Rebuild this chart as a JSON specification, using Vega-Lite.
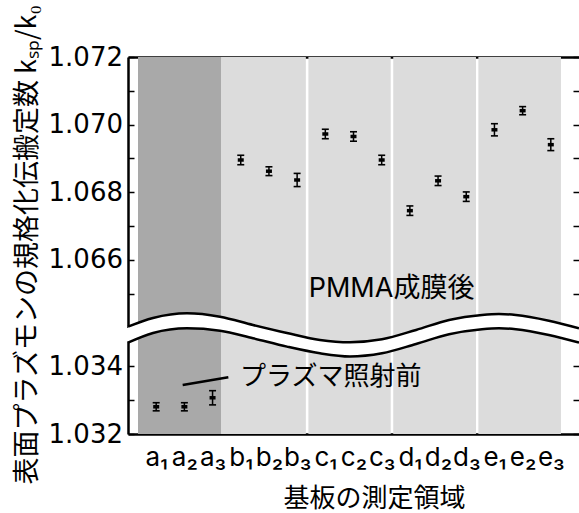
{
  "$schema": "https://vega.github.io/schema/vega-lite/v6.json",
  "width": 451,
  "height": 377,
  "autosize": {"type": "none"},
  "padding": {"left": 128, "top": 57, "right": 0, "bottom": 79},
  "background": "white",
  "config": {
    "view": {"stroke": null},
    "axis": {
      "grid": false,
      "domainColor": "black",
      "domainWidth": 2.5,
      "tickColor": "black",
      "tickWidth": 1.5,
      "labelColor": "black",
      "labelFont": "DejaVu Sans",
      "labelFontSize": 26,
      "titleColor": "black",
      "titleFont": "Noto Sans CJK JP",
      "titleFontSize": 27,
      "titleFontWeight": "normal",
      "labelOverlap": false,
      "labelFlush": false,
      "labelBound": false
    }
  },
  "datasets": {
    "upper": [
      {"id": "b1", "x": 4, "k": 1.068955, "lo": 1.068815, "hi": 1.069095},
      {"id": "b2", "x": 5, "k": 1.068624, "lo": 1.068494, "hi": 1.068754},
      {"id": "b3", "x": 6, "k": 1.068364, "lo": 1.068169, "hi": 1.068559},
      {"id": "c1", "x": 7, "k": 1.069724, "lo": 1.069584, "hi": 1.069864},
      {"id": "c2", "x": 8, "k": 1.06965, "lo": 1.06951, "hi": 1.06979},
      {"id": "c3", "x": 9, "k": 1.068955, "lo": 1.068815, "hi": 1.069095},
      {"id": "d1", "x": 10, "k": 1.067457, "lo": 1.067317, "hi": 1.067597},
      {"id": "d2", "x": 11, "k": 1.06834, "lo": 1.0682, "hi": 1.06848},
      {"id": "d3", "x": 12, "k": 1.067871, "lo": 1.067731, "hi": 1.068011},
      {"id": "e1", "x": 13, "k": 1.069848, "lo": 1.069668, "hi": 1.070028},
      {"id": "e2", "x": 14, "k": 1.070413, "lo": 1.070293, "hi": 1.070533},
      {"id": "e3", "x": 15, "k": 1.069408, "lo": 1.069233, "hi": 1.069583}
    ],
    "lower": [
      {"id": "a1", "x": 1, "k": 1.032805, "lo": 1.032685, "hi": 1.032925},
      {"id": "a2", "x": 2, "k": 1.032805, "lo": 1.032685, "hi": 1.032925},
      {"id": "a3", "x": 3, "k": 1.033071, "lo": 1.032861, "hi": 1.033281}
    ],
    "bands": [
      {"x": 0.355, "x2": 3.3, "kind": "before"},
      {"x": 3.3, "x2": 6.31, "kind": "after"},
      {"x": 6.4, "x2": 9.32, "kind": "after"},
      {"x": 9.41, "x2": 12.345, "kind": "after"},
      {"x": 12.43, "x2": 15.36, "kind": "after"}
    ],
    "wave": [
      {"x": 0, "top": 1.064028, "bot": 1.063555},
      {"x": 0.887, "top": 1.064285, "bot": 1.063841},
      {"x": 2.093, "top": 1.064424, "bot": 1.06398},
      {"x": 3.264, "top": 1.064323, "bot": 1.06391},
      {"x": 4.434, "top": 1.064078, "bot": 1.063685},
      {"x": 5.64, "top": 1.063841, "bot": 1.063437},
      {"x": 6.81, "top": 1.063635, "bot": 1.063241},
      {"x": 7.875, "top": 1.063567, "bot": 1.063147},
      {"x": 9.01, "top": 1.063655, "bot": 1.063241},
      {"x": 10.22, "top": 1.06393, "bot": 1.063516},
      {"x": 11.39, "top": 1.064226, "bot": 1.063803},
      {"x": 12.56, "top": 1.064374, "bot": 1.063951},
      {"x": 13.16, "top": 1.064403, "bot": 1.06398},
      {"x": 13.76, "top": 1.064374, "bot": 1.063951},
      {"x": 14.93, "top": 1.064205, "bot": 1.063782},
      {"x": 16.0, "top": 1.06398, "bot": 1.063555}
    ],
    "upperNote": [{"x": 9.35, "y": 1.065142, "text": "PMMA成膜後"}],
    "lowerNote": [{"x": 7.19, "y": 1.033686, "text": "プラズマ照射前"}],
    "pointer": [{"x": 1.94, "y": 1.03345, "x2": 3.56, "y2": 1.033677}]
  },
  "layer": [
    {
      "encoding": {
        "x": {
          "field": "x",
          "type": "quantitative",
          "scale": {"domain": [0, 16], "nice": false, "zero": false},
          "axis": {
            "orient": "bottom",
            "values": [1, 2, 3, 4, 5, 6, 7, 8, 9, 10, 11, 12, 13, 14, 15],
            "labelExpr": "['a₁','a₂','a₃','b₁','b₂','b₃','c₁','c₂','c₃','d₁','d₂','d₃','e₁','e₂','e₃'][datum.value-1]",
            "labelFont": "Inter",
            "labelFontSize": 26,
            "tickSize": -6,
            "labelPadding": 16,
            "title": "基板の測定領域",
            "titleFontSize": 26,
            "titleX": 246,
            "titleY": 72,
            "titleAlign": "center",
            "titleBaseline": "alphabetic"
          }
        }
      },
      "layer": [
        {
          "data": {"name": "bands"},
          "mark": {"type": "rect"},
          "encoding": {
            "x2": {"field": "x2"},
            "color": {
              "field": "kind",
              "type": "nominal",
              "scale": {"domain": ["before", "after"], "range": ["#a9a9a9", "#dcdcdc"]},
              "legend": null
            }
          }
        },
        {
          "data": {"name": "wave"},
          "mark": {"type": "area", "orient": "vertical", "interpolate": "monotone", "fill": "white", "clip": false},
          "encoding": {
            "y": {
              "field": "top",
              "type": "quantitative",
              "scale": {"domain": [1.064, 1.072], "range": [270.6, 0], "nice": false, "zero": false},
              "axis": null
            },
            "y2": {"field": "bot"}
          }
        },
        {
          "data": {"name": "wave"},
          "mark": {"type": "line", "interpolate": "monotone", "color": "black", "strokeWidth": 2.5, "clip": false},
          "encoding": {"y": {"field": "top", "type": "quantitative", "axis": null}}
        },
        {
          "data": {"name": "wave"},
          "mark": {"type": "line", "interpolate": "monotone", "color": "black", "strokeWidth": 2.5, "clip": false},
          "encoding": {"y": {"field": "bot", "type": "quantitative", "axis": null}}
        },
        {
          "data": {"name": "upper"},
          "mark": {"type": "rule", "color": "black", "strokeWidth": 1.5},
          "encoding": {
            "y": {"field": "lo", "type": "quantitative", "axis": null},
            "y2": {"field": "hi"}
          }
        },
        {
          "data": {"name": "upper"},
          "mark": {"type": "tick", "orient": "horizontal", "color": "black", "size": 7, "thickness": 1.6, "opacity": 1},
          "encoding": {"y": {"field": "lo", "type": "quantitative", "axis": null}}
        },
        {
          "data": {"name": "upper"},
          "mark": {"type": "tick", "orient": "horizontal", "color": "black", "size": 7, "thickness": 1.6, "opacity": 1},
          "encoding": {"y": {"field": "hi", "type": "quantitative", "axis": null}}
        },
        {
          "data": {"name": "upper"},
          "mark": {"type": "tick", "orient": "horizontal", "color": "black", "size": 6, "thickness": 3.5, "opacity": 1},
          "encoding": {"y": {"field": "k", "type": "quantitative", "axis": null}}
        },
        {
          "data": {"name": "upperNote"},
          "mark": {"type": "text", "font": "Inter, Noto Sans CJK JP", "fontSize": 27, "color": "black", "align": "center", "baseline": "middle"},
          "encoding": {
            "y": {"field": "y", "type": "quantitative", "axis": null},
            "text": {"field": "text"}
          }
        }
      ]
    },
    {
      "encoding": {
        "x": {
          "field": "x",
          "type": "quantitative",
          "scale": {"domain": [0, 16], "nice": false, "zero": false},
          "axis": null
        }
      },
      "layer": [
        {
          "data": {"name": "lower"},
          "mark": {"type": "rule", "color": "black", "strokeWidth": 1.5},
          "encoding": {
            "y": {
              "field": "lo",
              "type": "quantitative",
              "scale": {"domain": [1.032, 1.03475], "range": [377, 284], "nice": false, "zero": false},
              "axis": null
            },
            "y2": {"field": "hi"}
          }
        },
        {
          "data": {"name": "lower"},
          "mark": {"type": "tick", "orient": "horizontal", "color": "black", "size": 7, "thickness": 1.6, "opacity": 1},
          "encoding": {"y": {"field": "lo", "type": "quantitative", "axis": null}}
        },
        {
          "data": {"name": "lower"},
          "mark": {"type": "tick", "orient": "horizontal", "color": "black", "size": 7, "thickness": 1.6, "opacity": 1},
          "encoding": {"y": {"field": "hi", "type": "quantitative", "axis": null}}
        },
        {
          "data": {"name": "lower"},
          "mark": {"type": "tick", "orient": "horizontal", "color": "black", "size": 6, "thickness": 3.5, "opacity": 1},
          "encoding": {"y": {"field": "k", "type": "quantitative", "axis": null}}
        },
        {
          "data": {"name": "pointer"},
          "mark": {"type": "rule", "color": "black", "strokeWidth": 2.5},
          "encoding": {
            "x2": {"field": "x2"},
            "y": {"field": "y", "type": "quantitative", "axis": null},
            "y2": {"field": "y2"}
          }
        },
        {
          "data": {"name": "lowerNote"},
          "mark": {"type": "text", "font": "Noto Sans CJK JP", "fontSize": 26, "color": "black", "align": "center", "baseline": "middle"},
          "encoding": {
            "y": {"field": "y", "type": "quantitative", "axis": null},
            "text": {"field": "text"}
          }
        }
      ]
    },
    {
      "data": {"name": "upper"},
      "mark": {"type": "point", "opacity": 0},
      "encoding": {
        "x": {
          "field": "x",
          "type": "quantitative",
          "scale": {"domain": [0, 16], "nice": false, "zero": false},
          "axis": null
        },
        "y": {
          "field": "k",
          "type": "quantitative",
          "scale": {"domain": [1.064, 1.072], "range": [270.6, 0], "nice": false, "zero": false},
          "axis": {
            "orient": "left",
            "values": [1.065, 1.066, 1.067, 1.068, 1.069, 1.07, 1.071, 1.072],
            "labelExpr": "round(datum.value*1000) % 2 == 0 ? format(datum.value, '.3f') : ''",
            "tickSize": -6,
            "labelPadding": 11.5,
            "title": "表面プラズモンの規格化伝搬定数 kₛₚ/k₀",
            "titleAngle": -90,
            "titleX": -92.5,
            "titleY": 427,
            "titleAlign": "left",
            "titleBaseline": "alphabetic"
          }
        }
      }
    },
    {
      "data": {"name": "lower"},
      "mark": {"type": "point", "opacity": 0},
      "encoding": {
        "x": {
          "field": "x",
          "type": "quantitative",
          "scale": {"domain": [0, 16], "nice": false, "zero": false},
          "axis": null
        },
        "y": {
          "field": "k",
          "type": "quantitative",
          "scale": {"domain": [1.032, 1.03475], "range": [377, 284], "nice": false, "zero": false},
          "axis": {
            "orient": "left",
            "values": [1.032, 1.033, 1.034],
            "labelExpr": "round(datum.value*1000) % 2 == 0 ? format(datum.value, '.3f') : ''",
            "tickSize": -6,
            "labelPadding": 11.5,
            "title": null
          }
        }
      }
    },
    {
      "data": {"name": "upper"},
      "mark": {"type": "point", "opacity": 0},
      "encoding": {
        "x": {
          "field": "x",
          "type": "quantitative",
          "scale": {"domain": [0, 16], "nice": false, "zero": false},
          "axis": {
            "orient": "top",
            "values": [1, 2, 3, 4, 5, 6, 7, 8, 9, 10, 11, 12, 13, 14, 15],
            "labels": false,
            "tickSize": -6,
            "title": null
          }
        },
        "y": {
          "field": "k",
          "type": "quantitative",
          "scale": {"domain": [1.064, 1.072], "range": [270.6, 0], "nice": false, "zero": false},
          "axis": {
            "orient": "right",
            "values": [1.065, 1.066, 1.067, 1.068, 1.069, 1.07, 1.071, 1.072],
            "labels": false,
            "domain": false,
            "tickSize": -6,
            "title": null
          }
        }
      }
    },
    {
      "data": {"name": "lower"},
      "mark": {"type": "point", "opacity": 0},
      "encoding": {
        "x": {
          "field": "x",
          "type": "quantitative",
          "scale": {"domain": [0, 16], "nice": false, "zero": false},
          "axis": null
        },
        "y": {
          "field": "k",
          "type": "quantitative",
          "scale": {"domain": [1.032, 1.03475], "range": [377, 284], "nice": false, "zero": false},
          "axis": {
            "orient": "right",
            "values": [1.032, 1.033, 1.034],
            "labels": false,
            "domain": false,
            "tickSize": -6,
            "title": null
          }
        }
      }
    }
  ],
  "resolve": {
    "scale": {"x": "independent", "y": "independent"},
    "axis": {"x": "independent", "y": "independent"}
  }
}
